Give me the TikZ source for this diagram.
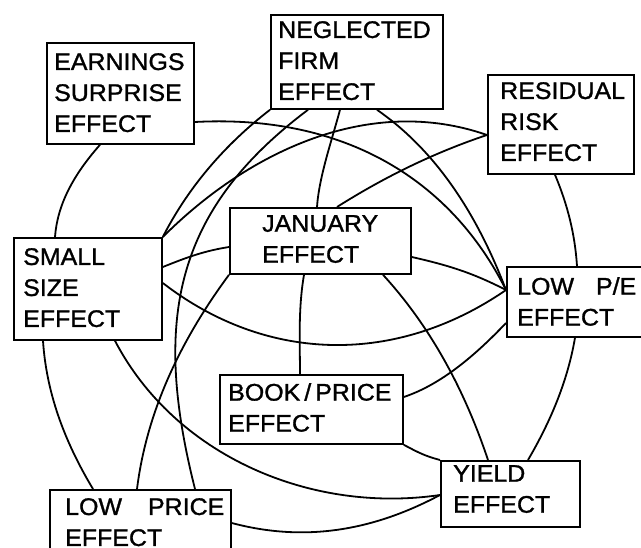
\documentclass[tikz,border=0pt]{standalone}
\usepackage{fontspec}
\setmainfont{Liberation Sans}[FakeStretch=1.04, BoldFont=Liberation Sans, BoldFeatures={FakeBold=1.2}]
\begin{document}
\begin{tikzpicture}[x=1pt,y=-1pt,
  box/.style={draw, line width=1.8pt, inner sep=0pt, anchor=north west, rectangle},
  lbl/.style={inner sep=0pt, anchor=north west, align=left, font=\fontsize{24}{31}\selectfont\bfseries},
  link/.style={line width=1.8pt}]
\useasboundingbox (0,0) rectangle (641,548);
\clip (0,0) rectangle (641,548);

% effect boxes
\node[box, minimum width=147pt, minimum height=101pt] (e) at (46,42)  {};
\node[box, minimum width=172pt, minimum height=94pt]  (n) at (270,14) {};
\node[box, minimum width=146pt, minimum height=99pt]  (r) at (487,74) {};
\node[box, minimum width=181pt, minimum height=66pt]  (j) at (229,207) {};
\node[box, minimum width=148pt, minimum height=102pt] (s) at (13,237) {};
\node[box, minimum width=160pt, minimum height=70pt]  (p) at (506,266) {};
\node[box, minimum width=183pt, minimum height=69pt]  (b) at (219,374) {};
\node[box, minimum width=139pt, minimum height=66pt]  (y) at (440,460) {};
\node[box, minimum width=181pt, minimum height=80pt]  (l) at (49,489) {};

% labels
\node[lbl] (et) at (54,53)   {EARNINGS\\SURPRISE\\EFFECT};
\node[lbl] (nt) at (278,21)  {NEGLECTED\\FIRM\\EFFECT};
\node[lbl] (rt) at (500,82)  {RESIDUAL\\RISK\\EFFECT};
\node[lbl] (jt) at (262,215) {JANUARY\\EFFECT};
\node[lbl] (st) at (23,248)  {SMALL\\SIZE\\EFFECT};
\node[lbl] (pt) at (517,277) {LOW\hspace{22pt}P/E\\EFFECT};
\node[lbl] (bt) at (228,383) {BOOK\kern4pt/\kern4pt PRICE\\EFFECT};
\node[lbl] (yt) at (453,465) {YIELD\\EFFECT};
\node[lbl] (lt) at (65,498)  {LOW\hspace{26pt}PRICE\\EFFECT};

% connections
\draw[link] ([xshift=54pt]e.south west) .. controls +(-27.7,31.3) and +(2.3,-31.3) .. ([xshift=42pt]s.north west);
\draw[link] ([yshift=-80pt]e.north east) .. controls +(150,-8) and +(-55,-110) .. ([yshift=-24pt]p.north west);
\draw[link] (s.north east) .. controls +(25.8,-50.4) and +(-44.7,34.5) .. (n.south west);
\draw[link] (s.north east) .. controls +(87,-87) and +(-116,-40.6) .. ([yshift=-61pt]r.north west);
\draw[link] ([xshift=146pt]l.north west) .. controls +(-43,-170) and +(-133,100) .. ([xshift=38pt]n.south west);
\draw[link] ([xshift=88pt]l.north west) .. controls +(9,-71.7) and +(-53,71.7) .. (j.south west);
\draw[link] ([xshift=30pt]s.south west) .. controls +(3.3,50) and +(-30,-50) .. ([xshift=44pt]l.north west);
\draw[link] ([xshift=102pt]s.south west) .. controls +(60,115) and +(-129,19) .. ([yshift=-35pt]y.north west);
\draw[link] ([yshift=-34pt]l.north east) .. controls +(70,18.7) and +(-70,37.3) .. ([yshift=-35pt]y.north west);
\draw[link] ([yshift=-30pt]s.north east) .. controls +(25,-10) and +(-25,4) .. ([yshift=-40pt]j.north west);
\draw[link] ([yshift=-46pt]s.north east) .. controls +(105,81) and +(-109,75) .. ([yshift=-24pt]p.north west);
\draw[link] ([xshift=70pt]n.south west) .. controls +(-8,30) and +(2,-30) .. ([xshift=88pt]j.north west);
\draw[link] ([xshift=107pt]n.south west) .. controls +(62,43) and +(-27,-71) .. ([yshift=-24pt]p.north west);
\draw[link] ([yshift=-61pt]r.north west) .. controls +(-51,17) and +(49,-31) .. ([xshift=108pt]j.north west);
\draw[link] ([xshift=75pt]j.south west) .. controls +(-6,35) and +(0,-30) .. ([xshift=81pt]b.north west);
\draw[link] ([yshift=-50pt]j.north east) .. controls +(35,8) and +(-35,-18) .. ([yshift=-24pt]p.north west);
\draw[link] ([xshift=154pt]j.south west) .. controls +(48.6,53) and +(-22.7,-68) .. ([xshift=48pt]y.north west);
\draw[link] ([yshift=-23pt]b.north east) .. controls +(33,-11) and +(-36,38) .. ([yshift=-57pt]p.north west);
\draw[link] (b.south east) .. controls +(15,8) and +(-15,-4) .. (y.north west);
\draw[link] ([xshift=69pt]p.south west) .. controls +(-7,41) and +(24,-41) .. ([xshift=88pt]y.north west);
\draw[link] ([xshift=68pt]r.south west) .. controls +(13,31) and +(-2,-31) .. ([xshift=71pt]p.north west);
\end{tikzpicture}
\end{document}
